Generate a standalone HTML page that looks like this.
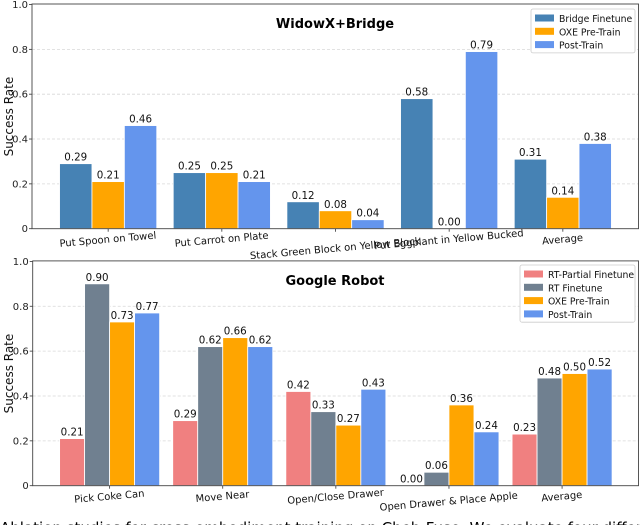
<!DOCTYPE html>
<html><head><meta charset="utf-8"><style>
html,body{margin:0;padding:0;background:#fff;width:640px;height:525px;overflow:hidden}
svg{display:block}
text{font-family:"DejaVu Sans","Liberation Sans",sans-serif}
</style></head><body>
<svg id="c" width="640" height="525"></svg>
<script>
const topCategories = ["Put Spoon on Towel","Put Carrot on Plate","Stack Green Block on Yellow Block","Put Eggplant in Yellow Bucked","Average"];
const topSeriesNames = ["Bridge Finetune","OXE Pre-Train","Post-Train"];
const topBridge = [0.29,0.25,0.12,0.58,0.31];
const topOXE = [0.21,0.25,0.08,0.00,0.14];
const topPost = [0.46,0.21,0.04,0.79,0.38];
const botCategories = ["Pick Coke Can","Move Near","Open/Close Drawer","Open Drawer & Place Apple","Average"];
const botSeriesNames = ["RT-Partial Finetune","RT Finetune","OXE Pre-Train","Post-Train"];
const botPartial = [0.21,0.29,0.42,0.00,0.23];
const botRT = [0.90,0.62,0.33,0.06,0.48];
const botOXE = [0.73,0.66,0.27,0.36,0.50];
const botPost = [0.77,0.62,0.43,0.24,0.52];
const yTicks = [0,0.2,0.4,0.6,0.8,1.0];
const yTickLabels = ["0","0.2","0.4","0.6","0.8","1.0"];

const NS="http://www.w3.org/2000/svg";
const svg=document.getElementById('c');
function mk(tag,attrs,parent,txt){const e=document.createElementNS(NS,tag);for(const k in attrs)e.setAttribute(k,attrs[k]);if(txt!==undefined)e.textContent=txt;(parent||svg).appendChild(e);return e;}

function panel(cfg){
  const g=mk('g',{});
  
  
  const L=cfg.left,R=cfg.right,y0=cfg.y0,y1=cfg.y1;
  const xs=c=>L+(c-cfg.xmin)/(cfg.xmax-cfg.xmin)*(R-L);
  const ys=v=>y0-(v)*(y0-y1);
  yTicks.forEach((t,i)=>{
    if(t>0&&t<1){const gl=mk('line',{x1:L,x2:R,y1:ys(t),y2:ys(t),stroke:'#d8d8d8','stroke-width':0.8,'stroke-dasharray':'3,2'},g);
      }
    const tl=mk('text',{x:L-4,y:ys(t)+3.5,'text-anchor':'end','font-size':10,fill:'#222'},g,yTickLabels[i]);
    
    mk('line',{x1:L-3,x2:L,y1:ys(t),y2:ys(t),stroke:'#333','stroke-width':0.8},g);
  });
  const n=cfg.series.length,bw=cfg.bw;
  cfg.series.forEach((arr,s)=>{
    arr.forEach((v,i)=>{
      const cx=xs(i)+(s-(n-1)/2)*bw;
      const r=mk('rect',{x:cx-bw/2,y:ys(v),width:bw,height:Math.max(0,y0-ys(v)),fill:cfg.colors[s],stroke:'#fff','stroke-width':0.8},g);
      
      
      const t=mk('text',{x:cx,y:ys(v)-3,'text-anchor':'middle','font-size':10.3,fill:'#111'},g,v.toFixed(2));
      
      
    });
  });
  cfg.cats.forEach((c,i)=>{
    const x=xs(i),y=y0+14+(cfg.offsets?cfg.offsets[i]:0);
    mk('line',{x1:x,x2:x,y1:y0,y2:y0+3,stroke:'#333','stroke-width':0.8},g);
    const t=mk('text',{x:x,y:y,'text-anchor':'middle','font-size':10,fill:'#111',transform:`rotate(-5 ${x} ${y})`},g,c);
    
    
  });
  const fr=mk('rect',{x:L,y:y1-0.5,width:R-L-0.5,height:y0-y1+0.5,fill:'none',stroke:'#444','stroke-width':0.9},g);
  
  const tt=mk('text',{x:cfg.titleX,y:cfg.titleY,'text-anchor':'middle','font-size':13,'font-weight':'bold',fill:'#000'},g,cfg.title);
  
  const yl=mk('text',{x:13,y:(y0+y1)/2,'text-anchor':'middle','font-size':12,fill:'#111',transform:`rotate(-90 13 ${(y0+y1)/2})`},g,'Success Rate');
  
  const lg=mk('g',{},g);
  
  mk('rect',{x:cfg.lx,y:cfg.ly,width:cfg.lw,height:cfg.names.length*13.3+4,fill:'#fff',stroke:'#ccc','stroke-width':0.8,rx:2},lg);
  cfg.names.forEach((nm,s)=>{
    const e=mk('g',{},lg);
    
    const yy=cfg.ly+3+s*13.3;
    mk('rect',{x:cfg.lx+4,y:yy+2.5,width:19,height:7,fill:cfg.colors[s]},e);
    mk('text',{x:cfg.lx+28,y:yy+10,'font-size':9.3,fill:'#111'},e,nm);
  });
}
panel({name:'widowx-bridge-chart',left:32,right:639,y0:228.7,y1:4.5,xmin:-0.67,xmax:4.67,bw:32.4,
  series:[topBridge,topOXE,topPost],colors:['#4682b4','#ffa500','#6495ed'],short:['bridge','oxe','post'],
  names:topSeriesNames,cats:topCategories,offsets:[0,0,9,0,0],title:'WidowX+Bridge',titleX:335,titleY:28,
  lx:531,ly:9,lw:104});
panel({name:'google-robot-chart',left:32.7,right:639,y0:485.7,y1:261.4,xmin:-0.68,xmax:4.68,bw:25,
  series:[botPartial,botRT,botOXE,botPost],colors:['#f08080','#708090','#ffa500','#6495ed'],short:['partial','rt','oxe','post'],
  names:botSeriesNames,cats:botCategories,offsets:[0,0,0,5,0],title:'Google Robot',titleX:335,titleY:285,
  lx:520,ly:265,lw:115});
const cap=mk('text',{x:0,y:533,'font-size':15,fill:'#000','font-family':'Liberation Serif, serif'},svg,'Ablation studies for cross-embodiment training on Cheb-Fuse. We evaluate four different training regimes.');

</script>
</body></html>
